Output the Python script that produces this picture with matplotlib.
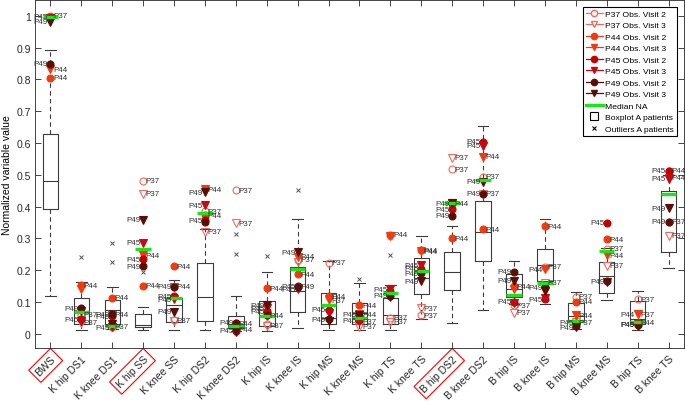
import numpy as np
import matplotlib
matplotlib.use("Agg")
import matplotlib.pyplot as plt
from matplotlib.lines import Line2D

plt.rcParams['font.family'] = ['Liberation Sans', 'DejaVu Sans']

nan = np.nan
categories = ["BWS", "K hip DS1", "K knee DS1", "K hip SS", "K knee SS", "K hip DS2",
              "K knee DS2", "K hip IS", "K knee IS", "K hip MS", "K knee MS", "K hip TS",
              "K knee TS", "B hip DS2", "B knee DS2", "B hip IS", "B knee IS", "B hip MS",
              "B knee MS", "B hip TS", "B knee TS"]
boxed_labels = ["BWS", "K hip SS", "B hip DS2"]

# Boxplot statistics (A patients)
whislo = [0.12, 0.013, 0.015, 0.013, 0.011, 0.011, 0.010, 0.010, 0.019, 0.011, 0.012,
          0.011, 0.046, 0.035, 0.076, 0.095, 0.093, 0.015, 0.106, 0.012, 0.208]
q1 = [0.393, 0.032, 0.030, 0.020, 0.036, 0.040, 0.018, 0.024, 0.069, 0.029, 0.032,
      0.029, 0.125, 0.137, 0.228, 0.114, 0.167, 0.038, 0.129, 0.030, 0.258]
med = [0.479, 0.071, 0.076, 0.026, 0.090, 0.116, 0.030, 0.059, 0.134, 0.050, 0.066,
       0.058, 0.174, 0.193, 0.321, 0.140, 0.216, 0.055, 0.182, 0.045, 0.435]
q3 = [0.629, 0.113, 0.107, 0.061, 0.113, 0.223, 0.057, 0.103, 0.211, 0.129, 0.098,
      0.111, 0.237, 0.258, 0.417, 0.188, 0.268, 0.098, 0.226, 0.103, 0.448]
whishi = [0.894, 0.163, 0.148, 0.084, 0.169, 0.330, 0.118, 0.195, 0.360, 0.228, 0.158,
          0.153, 0.308, 0.340, 0.654, 0.228, 0.360, 0.132, 0.270, 0.134, 0.500]
outliers = [[], [0.241], [0.286, 0.226], [0.195], [], [], [0.313, 0.250], [0.245],
            [0.453], [], [0.172], [0.249, 0.305], [], [], [], [], [], [], [], [], []]

median_na = [0.995, 0.068, 0.024, 0.268, 0.112, 0.381, 0.025, 0.057, 0.203, 0.090,
             0.048, 0.127, 0.196, 0.410, 0.485, 0.121, 0.158, 0.040, 0.260, 0.036, 0.441]

# Observed values of B patients (visit 2 / visit 3)
p37_v2 = [1.000, 0.060, 0.022, 0.481, 0.042, 0.385, 0.452, 0.032, 0.232, 0.224, 0.040,
          0.050, 0.058, 0.518, 0.494, 0.090, 0.210, 0.116, 0.268, 0.109, 0.352]
p37_v3 = [nan, 0.035, 0.020, 0.441, 0.040, 0.321, 0.347, 0.025, 0.226, 0.105, 0.022,
          0.038, 0.080, 0.553, 0.440, 0.066, 0.160, 0.036, 0.214, 0.061, 0.308]
p44_v2 = [0.805, 0.153, 0.113, 0.151, 0.213, 0.373, 0.033, 0.143, 0.187, 0.118, 0.090,
          0.312, 0.263, 0.300, 0.328, 0.150, 0.338, 0.100, 0.298, 0.035, 0.512]
p44_v3 = [0.832, 0.142, 0.060, 0.247, 0.148, 0.455, 0.012, 0.057, 0.242, 0.108, 0.062,
          0.308, 0.260, 0.410, 0.557, 0.140, 0.203, 0.058, 0.247, 0.061, 0.490]
p45_v2 = [0.998, 0.045, 0.055, 0.234, 0.118, 0.357, 0.010, 0.070, 0.150, 0.075, 0.043,
          0.135, 0.205, 0.392, 0.604, 0.100, 0.108, 0.035, 0.349, 0.030, 0.512]
p45_v3 = [0.992, 0.040, 0.020, 0.287, 0.108, 0.404, 0.015, 0.080, 0.140, 0.065, 0.040,
          0.140, 0.216, 0.400, 0.591, 0.098, 0.112, 0.030, nan, 0.030, 0.488]
p49_v2 = [0.850, 0.080, 0.062, 0.213, 0.148, 0.350, 0.035, 0.060, 0.147, 0.045, 0.055,
          0.120, 0.190, 0.371, 0.440, 0.195, 0.146, 0.025, 0.165, 0.028, 0.352]
p49_v3 = [0.982, 0.070, 0.030, 0.359, 0.069, 0.445, 0.005, 0.090, 0.256, 0.040, 0.060,
          0.117, 0.165, 0.410, 0.478, 0.167, 0.135, 0.020, 0.163, 0.025, 0.394]

# label side for each point: 'r' right, 'l' left, '' none
p37_v2_lab = ['r','r','r','r','r','r','r','','r','r','r','r','r','r','r','r','r','r','r','r','r']
p37_v3_lab = ['','r','','r','','r','r','r','','r','r','r','r','r','r','r','r','r','r','r','r']
p44_v2_lab = ['r','r','r','r','r','r','r','r','r','r','r','r','r','r','r','r','r','r','r','r','r']
p44_v3_lab = ['r','','r','r','r','r','r','r','r','','r','','r','r','r','','l','r','r','l','r']
p45_v2_lab = ['l','l','l','l','l','l','l','l','l','l','l','','l','l','l','l','l','l','l','l','l']
p45_v3_lab = ['','','l','l','l','l','','l','l','','','l','l','','l','','','','','','l']
p49_v2_lab = ['l','l','l','l','l','','l','','r','l','','l','l','l','l','l','l','','l','l','l']
p49_v3_lab = ['l','','','l','l','l','','l','l','','l','','l','l','l','l','','l','','','l']

series = [
    ("P37 Obs. Visit 2", p37_v2, p37_v2_lab, "P37", "o", "#f26a5a", False),
    ("P37 Obs. Visit 3", p37_v3, p37_v3_lab, "P37", "v", "#f26a5a", False),
    ("P44 Obs. Visit 2", p44_v2, p44_v2_lab, "P44", "o", "#f03a10", True),
    ("P44 Obs. Visit 3", p44_v3, p44_v3_lab, "P44", "v", "#f03a10", True),
    ("P45 Obs. Visit 2", p45_v2, p45_v2_lab, "P45", "o", "#c40000", True),
    ("P45 Obs. Visit 3", p45_v3, p45_v3_lab, "P45", "v", "#c40a14", True),
    ("P49 Obs. Visit 2", p49_v2, p49_v2_lab, "P49", "o", "#5a0f05", True),
    ("P49 Obs. Visit 3", p49_v3, p49_v3_lab, "P49", "v", "#5a0f05", True),
]

fig = plt.figure(figsize=(6.85, 4.02), dpi=100)
ax = fig.add_axes([0.0511, 0.1318, 0.9474, 0.8657])

pos = np.arange(1, len(categories) + 1)
stats = []
for i in range(len(categories)):
    stats.append(dict(whislo=whislo[i], q1=q1[i], med=med[i], q3=q3[i],
                      whishi=whishi[i], fliers=outliers[i]))
boxc = "#3c3c3c"
ax.bxp(stats, positions=pos, widths=0.5, capwidths=0.34, showfliers=True,
       boxprops=dict(color=boxc, lw=0.8),
       medianprops=dict(color=boxc, lw=0.8),
       whiskerprops=dict(color=boxc, lw=0.8, ls=(0, (4, 3))),
       capprops=dict(color=boxc, lw=0.8),
       flierprops=dict(marker="x", markersize=3, markeredgecolor="#555555",
                       markeredgewidth=0.7, ls="none"))

handles = []
for name, vals, labs, pid, mk, col, filled in series:
    vals = np.array(vals, dtype=float)
    ax.plot(pos, vals, ls="none", marker=mk, markersize=5 if mk == "o" else 5.2,
            markerfacecolor=col if filled else "none", markeredgecolor=col,
            markeredgewidth=0.8, zorder=4)
    for x, v, s in zip(pos, vals, labs):
        if np.isnan(v) or s == "":
            continue
        off = 1.8 if s == "r" else -1.8
        ax.annotate(pid, (x, v), xytext=(off, 0), textcoords="offset points",
                    ha="left" if s == "r" else "right", va="center",
                    fontsize=5.8, color="#303030", zorder=5)
    handles.append(Line2D([], [], color=col, lw=0.9, marker=mk, markersize=4.5,
                          markerfacecolor=col if filled else "white",
                          markeredgecolor=col, label=name))

for x, v in zip(pos, median_na):
    ax.plot([x - 0.25, x + 0.25], [v, v], color="#19e619", lw=2.4,
            solid_capstyle="butt", zorder=4.5)

handles.append(Line2D([], [], color="#19e619", lw=2.4, label="Median NA"))
handles.append(Line2D([], [], ls="none", marker="s", markersize=6,
                      markerfacecolor="white", markeredgecolor="k",
                      markeredgewidth=0.8, label="Boxplot A patients"))
handles.append(Line2D([], [], ls="none", marker="x", markersize=3.5,
                      markeredgecolor="k", markeredgewidth=0.8,
                      label="Outliers A patients"))

leg = ax.legend(handles=handles, loc="upper right", fontsize=6.1, frameon=True,
                fancybox=False, edgecolor="k", framealpha=1,
                handlelength=2.0, handletextpad=0.3, labelspacing=0.42,
                borderpad=0.35, borderaxespad=0.8)
leg.get_frame().set_linewidth(0.8)

ax.set_xlim(0.5, len(categories) + 0.5)
ax.set_ylim(-0.045, 1.05)
ax.set_yticks(np.arange(0, 1.01, 0.1))
ax.set_yticklabels(["0", "0.1", "0.2", "0.3", "0.4", "0.5", "0.6", "0.7", "0.8", "0.9", "1"])
ax.set_xticks(pos)
ax.set_xticklabels(categories, rotation=45, ha="right", va="top", rotation_mode="anchor")
ax.tick_params(direction="in", top=True, right=True, labelsize=7.5, length=4,
               width=0.6, colors="#262626", pad=3)
ax.tick_params(axis="x", pad=4)
for lab in ax.get_xticklabels():
    if lab.get_text() in boxed_labels:
        lab.set_bbox(dict(boxstyle="square,pad=0.35", edgecolor="red",
                          facecolor="none", lw=0.8))
for sp in ax.spines.values():
    sp.set_linewidth(0.6)
    sp.set_color("#262626")
ax.set_ylabel("Normalized variable value", fontsize=7.5, labelpad=3)

fig.savefig("out.png", dpi=100)
